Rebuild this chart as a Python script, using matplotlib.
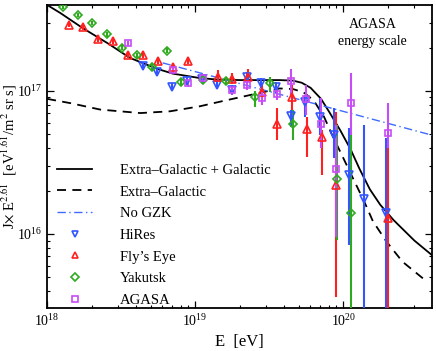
import matplotlib
matplotlib.use("Agg")
import matplotlib.pyplot as plt
from matplotlib.lines import Line2D
from matplotlib.legend_handler import HandlerLine2D
import numpy as np

plt.rcParams['font.family'] = ['Liberation Serif', 'DejaVu Serif']
plt.rcParams['mathtext.fontset'] = 'stix'

# ---------------- data (log10 E [eV], J*E^2.61 in units of 1e17) ----------------
# Model curves
curve_total_logE = [18.00, 18.09, 18.24, 18.41, 18.56, 18.74, 18.85, 19.03, 19.15, 19.31, 19.45,
                    19.57, 19.66, 19.72, 19.78, 19.85, 19.91, 19.98, 20.05, 20.11, 20.18, 20.25,
                    20.34, 20.48, 20.60]
curve_total_J = [3.99, 3.50, 2.75, 2.15, 1.70, 1.43, 1.32, 1.23, 1.20, 1.19, 1.19,
                 1.19, 1.18, 1.14, 1.05, 0.88, 0.70, 0.53, 0.39, 0.285, 0.205, 0.16,
                 0.125, 0.090, 0.071]

curve_eg_logE = [18.00, 18.16, 18.36, 18.63, 18.83, 19.03, 19.21, 19.44, 19.57, 19.66, 19.73,
                 19.80, 19.87, 19.93, 20.00, 20.07, 20.14, 20.20, 20.29, 20.40, 20.57]
curve_eg_J = [0.88, 0.82, 0.74, 0.70, 0.72, 0.78, 0.86, 0.97, 1.04, 1.03, 0.98,
              0.86, 0.66, 0.48, 0.34, 0.24, 0.17, 0.123, 0.089, 0.064, 0.046]

nogzk_logE = [18.78, 20.60]
nogzk_J = [1.57, 0.49]

# HiRes
hires_logE = [18.647, 18.743, 18.845, 18.948, 19.049, 19.145, 19.248, 19.349, 19.446, 19.547,
              19.645, 19.743, 19.841, 19.939, 20.041, 20.142, 20.291]
hires_J = [1.50, 1.35, 1.07, 1.17, 1.21, 1.10, 1.02, 1.26, 1.13, 1.06,
           0.668, 0.838, 0.658, 0.492, 0.259, 0.175, 0.141]
hires_lo = [1.42, 1.28, 1.01, 1.10, 1.14, 1.03, 0.95, 1.17, 1.04, 0.97,
            0.56, 0.66, 0.49, 0.34, 0.084, 0.01, 0.01]
hires_hi = [1.58, 1.43, 1.14, 1.25, 1.29, 1.18, 1.10, 1.36, 1.23, 1.16,
            0.736, 0.94, 0.89, 0.76, 0.55, 0.578, 0.469]

# Fly's Eye
fly_logE = [18.149, 18.245, 18.347, 18.448, 18.547, 18.649, 18.750, 18.847, 18.953, 19.152,
            19.252, 19.356, 19.451, 19.552, 19.653, 19.755, 19.855, 19.953, 20.302]
fly_J = [2.91, 2.79, 2.31, 2.23, 1.77, 1.79, 1.61, 1.48, 1.62, 1.25,
         1.21, 1.26, 0.99, 0.587, 0.91, 0.54, 0.477, 0.22, 0.129]
fly_lo = [2.80, 2.68, 2.21, 2.13, 1.69, 1.70, 1.53, 1.40, 1.53, 1.16,
          1.11, 1.15, 0.89, 0.454, 0.74, 0.345, 0.259, 0.036, 0.01]
fly_hi = [3.02, 2.90, 2.42, 2.33, 1.86, 1.88, 1.70, 1.57, 1.72, 1.40,
          1.33, 1.43, 1.10, 0.76, 1.10, 0.658, 0.533, 0.713, 0.419]

# Yakutsk
yak_logE = [18.106, 18.207, 18.306, 18.407, 18.507, 18.608, 18.709, 18.809, 18.905, 19.056,
            19.209, 19.405, 19.507, 19.659, 19.956, 20.054]
yak_J = [3.85, 3.38, 2.99, 2.49, 2.00, 1.77, 1.47, 1.91, 1.16, 1.19,
         1.18, 0.90, 1.13, 0.587, 0.243, 0.141]
yak_lo = [3.72, 3.26, 2.88, 2.40, 1.92, 1.70, 1.41, 1.83, 1.10, 1.13,
          1.11, 0.777, 0.99, 0.454, 0.091, 0.01]
yak_hi = [3.98, 3.50, 3.10, 2.58, 2.08, 1.84, 1.53, 1.99, 1.22, 1.25,
          1.25, 1.00, 1.26, 0.736, 0.578, 0.516]

# AGASA
agasa_logE = [18.549, 18.849, 18.949, 19.052, 19.250, 19.349, 19.451, 19.552, 19.649, 19.750,
              19.849, 19.953, 20.051, 20.300]
agasa_J = [2.16, 1.41, 1.13, 1.23, 1.02, 1.10, 0.889, 0.948, 1.17, 0.877,
           0.587, 0.283, 0.82, 0.506]
agasa_lo = [2.07, 1.34, 1.07, 1.16, 0.94, 1.02, 0.80, 0.86, 0.94, 0.68,
            0.40, 0.095, 0.49, 0.40]
agasa_hi = [2.25, 1.48, 1.19, 1.30, 1.10, 1.18, 0.98, 1.04, 1.43, 1.10,
            0.89, 0.578, 1.34, 0.82]


class RightMarkerHandler(HandlerLine2D):
    """Legend handler that draws the marker at the right end of the handle box."""
    def get_xdata(self, legend, xdescent, ydescent, width, height, fontsize):
        xdata = np.array([-xdescent, -xdescent + width], float)
        xdata_marker = np.array([-xdescent + width], float)
        return xdata, xdata_marker


# ---------------- plot ----------------
fig = plt.figure(figsize=(4.36, 3.51), dpi=100)
ax = fig.add_axes([0.108, 0.1225, 0.883, 0.8635])

def E(le):
    return 10.0 ** np.asarray(le)

def J(v):
    return np.asarray(v) * 1e17

h1, = ax.plot(E(curve_total_logE), J(curve_total_J), color='black', lw=1.3,
              label='Extra\u2013Galactic + Galactic', zorder=3)
h2, = ax.plot(E(curve_eg_logE), J(curve_eg_J), color='black', lw=1.3, ls=(0, (5, 3.5)),
              label='Extra\u2013Galactic', zorder=3)
h3, = ax.plot(E(nogzk_logE), J(nogzk_J), color='#3f6bff', lw=1.0, ls=(0, (6, 2.5, 1, 2.5)),
              label='No GZK', zorder=3)

series = [
    (hires_logE, hires_J, hires_lo, hires_hi, 'v', '#3355ff', 'HiRes', 5.2),
    (fly_logE, fly_J, fly_lo, fly_hi, '^', '#ff2020', "Fly\u2019s Eye", 5.2),
    (yak_logE, yak_J, yak_lo, yak_hi, 'D', '#2faa1f', 'Yakutsk', 4.2),
    (agasa_logE, agasa_J, agasa_lo, agasa_hi, 's', '#c84cf5', 'AGASA', 4.5),
]
handles = [h1, h2, h3]
hmap = {}
for le, v, lo, hi, m, c, lab, ms in series:
    x = E(le)
    y = J(v)
    yerr = [y - J(lo), J(hi) - y]
    ax.errorbar(x, y, yerr=yerr, fmt=m, color=c, ecolor=c, elinewidth=1.5,
                capsize=0, ms=ms, mfc='none', mec=c, mew=1.2, zorder=4)
    hd = Line2D([], [], ls='none', marker=m, ms=ms - 0.5, mfc='none', mec=c,
                mew=1.2, label=lab)
    handles.append(hd)
    hmap[hd] = RightMarkerHandler(numpoints=1)

ax.set_xscale('log')
ax.set_yscale('log')
ax.set_xlim(1e18, 10 ** 20.6)
ax.set_ylim(10 ** 15.4825, 10 ** 17.601)

ax.tick_params(which='both', direction='in', top=True, right=True, labelsize=10)
ax.tick_params(which='major', length=5, width=0.9)
ax.tick_params(which='minor', length=2.5, width=0.8)
for s in ax.spines.values():
    s.set_linewidth(1.3)

ax.set_xlabel('E  [eV]', fontsize=12, labelpad=4)
ax.set_ylabel(r'J$\times$ E$^{2.61}$  [eV$^{1.61}$/m$^{2}$ sr s]', fontsize=10.5)
ax.yaxis.set_label_coords(-0.073, 0.5)

ax.text(0.845, 0.935, 'AGASA', transform=ax.transAxes, ha='center', va='center', fontsize=10)
ax.text(0.845, 0.88, 'energy scale', transform=ax.transAxes, ha='center', va='center', fontsize=10)

leg = ax.legend(handles=handles, handler_map=hmap, loc='upper left',
                bbox_to_anchor=(0.0, 0.51), frameon=False,
                fontsize=10.5, handlelength=2.4, handletextpad=1.9, labelspacing=0.58,
                numpoints=1, borderaxespad=0.3)

fig.savefig('out.png', dpi=100)
